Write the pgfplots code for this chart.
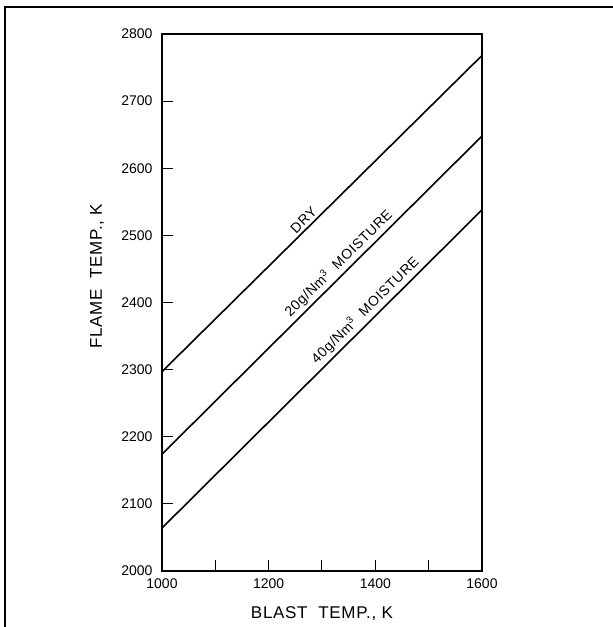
\documentclass[border=0pt]{standalone}
\usepackage{fontspec}
\setmainfont{Liberation Sans}
\newfontfamily\lblfont[LetterSpace=4]{Liberation Sans}
\usepackage{pgfplots}
\pgfplotsset{compat=1.18}
\begin{document}
\begin{tikzpicture}
\useasboundingbox (0,0) rectangle (613pt,627pt);
\draw[line width=1.3pt] (5pt,0) -- (5pt,620pt) -- (613pt,620pt);
\begin{axis}[
  at={(162pt,56pt)}, anchor=south west,
  scale only axis, width=320pt, height=537pt,
  xmin=1000, xmax=1600, ymin=2000, ymax=2800,
  axis line style={line width=1.1pt},
  xtick={1000,1100,...,1600}, xticklabels={1000,,1200,,1400,,1600},
  ytick={2000,2100,...,2800},
  tick pos=left, tick align=inside, major tick length=11pt,
  tick style={line width=1pt, black},
  /pgf/number format/assume math mode=true,
  /pgf/number format/1000 sep={},
  ticklabel style={font=\fontsize{14}{14}\selectfont},
  xticklabel style={yshift=-4pt},
  yticklabel style={xshift=-6pt},
  xlabel={BLAST\ \ TEMP., K}, ylabel={FLAME\ \ TEMP., K},
  label style={font=\lblfont\fontsize{17}{17}\selectfont},
  xlabel style={at={(axis description cs:0.5,-0.08)}, anchor=center},
  ylabel style={at={(axis description cs:-0.203,0.549)}, anchor=center},
  clip=false,
]
\addplot[line width=1.6pt, black] coordinates {(1000,2297) (1600,2768)};
\addplot[line width=1.6pt, black] coordinates {(1000,2174) (1600,2648)};
\addplot[line width=1.6pt, black] coordinates {(1000,2064) (1600,2538)};
\node[rotate=44.6, anchor=south, inner sep=3pt, font=\lblfont\fontsize{14}{14}\selectfont] at (axis cs:1276,2514) {DRY};
\node[rotate=44.6, anchor=south, inner sep=3pt, font=\lblfont\fontsize{14}{14}\selectfont] at (axis cs:1345,2447) {20g/Nm\textsuperscript{3}\ \ MOISTURE};
\node[rotate=44.6, anchor=south, inner sep=3pt, font=\lblfont\fontsize{14}{14}\selectfont] at (axis cs:1395,2377) {40g/Nm\textsuperscript{3}\ \ MOISTURE};
\end{axis}
\end{tikzpicture}
\end{document}
